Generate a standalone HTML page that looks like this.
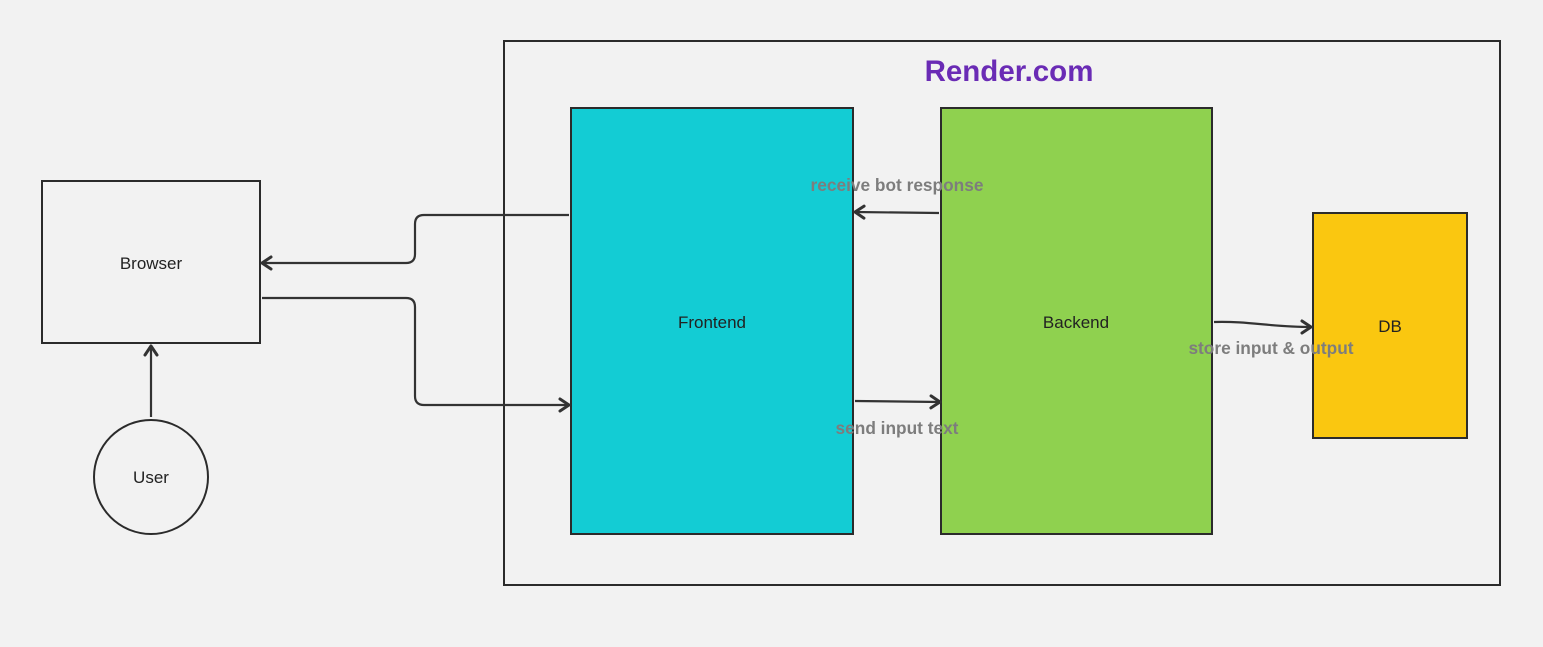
<!DOCTYPE html>
<html><head><meta charset="utf-8">
<style>
html,body{margin:0;padding:0;background:#f2f2f2;}
svg{display:block;font-family:"Liberation Sans","DejaVu Sans",sans-serif;}
</style></head>
<body>
<svg width="1543" height="647" viewBox="0 0 1543 647">
<defs>
<marker id="ah" markerWidth="14" markerHeight="16" refX="11" refY="8" orient="auto" markerUnits="userSpaceOnUse" viewBox="0 0 14 16">
<path d="M2,2 L11,8 L2,14" fill="none" stroke="#333" stroke-width="3" stroke-linecap="round" stroke-linejoin="round"/>
</marker>
</defs>
<rect x="0" y="0" width="1543" height="647" fill="#f2f2f2"/>
<rect x="504" y="41" width="996" height="544" fill="none" stroke="#2b2b2b" stroke-width="2"/>
<text x="1009" y="81" text-anchor="middle" font-size="29.5" font-weight="bold" fill="#6a2bb5">Render.com</text>

<rect x="42" y="181" width="218" height="162" fill="#f2f2f2" stroke="#2b2b2b" stroke-width="2"/>
<text x="151" y="269" text-anchor="middle" font-size="17" fill="#222">Browser</text>

<circle cx="151" cy="477" r="57" fill="#f2f2f2" stroke="#2b2b2b" stroke-width="2"/>
<text x="151" y="483" text-anchor="middle" font-size="17" fill="#222">User</text>

<rect x="571" y="108" width="282" height="426" fill="#13ccd4" stroke="#2b2b2b" stroke-width="2"/>
<text x="712" y="328" text-anchor="middle" font-size="17" fill="#222">Frontend</text>

<rect x="941" y="108" width="271" height="426" fill="#8fd14f" stroke="#2b2b2b" stroke-width="2"/>
<text x="1076" y="328" text-anchor="middle" font-size="17" fill="#222">Backend</text>

<rect x="1313" y="213" width="154" height="225" fill="#fac710" stroke="#2b2b2b" stroke-width="2"/>
<text x="1390" y="332" text-anchor="middle" font-size="17" fill="#222">DB</text>

<g fill="none" stroke="#333" stroke-width="2.2">
<path d="M151,417 V346" marker-end="url(#ah)"/>
<path d="M569,215 H424 Q415,215 415,224 V254 Q415,263 406,263 H262" marker-end="url(#ah)"/>
<path d="M262,298 H406 Q415,298 415,307 V396 Q415,405 424,405 H569" marker-end="url(#ah)"/>
<path d="M939,213 L855,212" marker-end="url(#ah)"/>
<path d="M855,401 L940,402" marker-end="url(#ah)"/>
<path d="M1214,322 C1250,321 1270,327 1311,327" marker-end="url(#ah)"/>
</g>

<text x="897" y="191" text-anchor="middle" font-size="17.3" font-weight="bold" fill="#7d7d7d">receive bot response</text>
<text x="897" y="434" text-anchor="middle" font-size="17.3" font-weight="bold" fill="#7d7d7d">send input text</text>
<text x="1271" y="354" text-anchor="middle" font-size="17.3" font-weight="bold" fill="#7d7d7d">store input &amp; output</text>
</svg>
</body></html>
